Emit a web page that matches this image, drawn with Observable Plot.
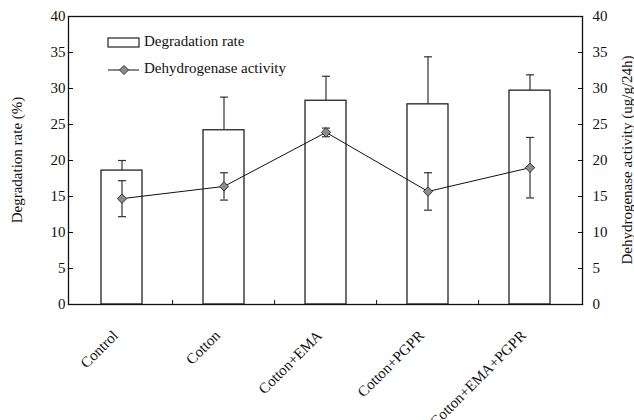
<!DOCTYPE html>
<html>
<head>
<meta charset="utf-8">
<script src="https://cdn.jsdelivr.net/npm/d3@7"></script>
<script src="https://cdn.jsdelivr.net/npm/@observablehq/plot@0.6"></script>
<style>
  html, body { margin: 0; padding: 0; background: #fff; }
  #chart svg { display: block; }
</style>
</head>
<body>
<div id="chart"></div>
<script>
const categories = ["Control", "Cotton", "Cotton+EMA", "Cotton+PGPR", "Cotton+EMA+PGPR"];
const degradation = [18.6, 24.2, 28.3, 27.8, 29.7];
const degradationErr = [1.4, 4.6, 3.4, 6.6, 2.2];
const dehydrogenase = [14.7, 16.4, 23.9, 15.7, 19.0];
const dehydrogenaseErr = [2.5, 1.9, 0.6, 2.6, 4.2];
const yTicks = [0, 5, 10, 15, 20, 25, 30, 35, 40];
const legendLabels = ["Degradation rate", "Dehydrogenase activity"];
const leftTitle = "Degradation rate (%)";
const rightTitle = "Dehydrogenase activity (ug/g/24h)";

const data = categories.map((c, i) => ({
  cat: c,
  bar: degradation[i],
  barHi: degradation[i] + degradationErr[i],
  act: dehydrogenase[i],
  actLo: dehydrogenase[i] - dehydrogenaseErr[i],
  actHi: dehydrogenase[i] + dehydrogenaseErr[i]
}));

const W = 634, H = 420, mL = 68, mR = 52, mT = 16, mB = 116;
const step = (W - mL - mR) / categories.length;

const hline = { draw(ctx, size) { const r = Math.sqrt(size / Math.PI); ctx.moveTo(-r, 0); ctx.lineTo(r, 0); } };
const vline = { draw(ctx, size) { const r = Math.sqrt(size / Math.PI); ctx.moveTo(0, -r); ctx.lineTo(0, r); } };

const font = "'Liberation Serif', 'Times New Roman', serif";

const plot = Plot.plot({
  width: W, height: H,
  marginLeft: mL, marginRight: mR, marginTop: mT, marginBottom: mB,
  style: { fontFamily: font, fontSize: "15px", color: "#111", background: "#fff" },
  x: { domain: categories, paddingInner: 0.6, paddingOuter: 0.3, axis: null },
  y: { domain: [0, 40], axis: null },
  marks: [
    Plot.barY(data, { x: "cat", y: "bar", fill: "#fff", stroke: "#222", strokeWidth: 1.3 }),
    Plot.ruleX(data, { x: "cat", y1: "bar", y2: "barHi", stroke: "#333", strokeWidth: 1.2 }),
    Plot.dot(data, { x: "cat", y: "barHi", symbol: hline, r: 4, fill: "none", stroke: "#333", strokeWidth: 1.2 }),
    Plot.line(data, { x: "cat", y: "act", stroke: "#111", strokeWidth: 1 }),
    Plot.ruleX(data, { x: "cat", y1: "actLo", y2: "actHi", stroke: "#333", strokeWidth: 1.2 }),
    Plot.dot(data, { x: "cat", y: "actLo", symbol: hline, r: 4, fill: "none", stroke: "#333", strokeWidth: 1.2 }),
    Plot.dot(data, { x: "cat", y: "actHi", symbol: hline, r: 4, fill: "none", stroke: "#333", strokeWidth: 1.2 }),
    Plot.dot(data, { x: "cat", y: "act", symbol: "diamond2", r: 4.2, fill: "#8c8c8c", stroke: "#333", strokeWidth: 1 }),
    Plot.frame({ stroke: "#111", strokeWidth: 1.3 }),
    Plot.dot(yTicks, { y: d => d, frameAnchor: "left", symbol: hline, r: 2.6, dx: 2, fill: "none", stroke: "#111", strokeWidth: 1 }),
    Plot.dot(yTicks, { y: d => d, frameAnchor: "right", symbol: hline, r: 2.6, dx: -2, fill: "none", stroke: "#111", strokeWidth: 1 }),
    Plot.dot(categories.slice(1), { x: d => d, frameAnchor: "bottom", symbol: vline, r: 2.6, dx: -step / 2, dy: -2, fill: "none", stroke: "#111", strokeWidth: 1 }),
    Plot.axisY({ anchor: "left", ticks: yTicks, tickSize: 0, tickPadding: 3, label: null, fontSize: 15 }),
    Plot.axisY({ anchor: "right", ticks: yTicks, tickSize: 0, tickPadding: 10, label: null, fontSize: 15 }),
    Plot.text(categories, { x: d => d, frameAnchor: "bottom", rotate: -45, textAnchor: "end", dy: 32, dx: -3, fontSize: 15 })
  ]
});

document.getElementById("chart").appendChild(plot);

const svg = d3.select(plot);
const cy = (mT + (H - mB)) / 2;
svg.append("text").attr("transform", `translate(19,${cy}) rotate(-90)`)
  .attr("text-anchor", "middle").attr("dominant-baseline", "middle")
  .style("font-family", font).style("font-size", "15px").attr("fill", "#111").text(leftTitle);
svg.append("text").attr("transform", `translate(629,${cy}) rotate(-90)`)
  .attr("text-anchor", "middle").attr("dominant-baseline", "middle")
  .style("font-family", font).style("font-size", "15px").attr("fill", "#111").text(rightTitle);

const lg = svg.append("g").style("font-family", font).style("font-size", "15px").attr("text-anchor", "start");
lg.append("rect").attr("x", 108).attr("y", 38).attr("width", 31).attr("height", 9)
  .attr("fill", "#fff").attr("stroke", "#222").attr("stroke-width", 1.2);
lg.append("text").attr("x", 144).attr("y", 43).attr("text-anchor", "start").attr("dominant-baseline", "middle").attr("fill", "#111").text(legendLabels[0]);
lg.append("line").attr("x1", 108).attr("x2", 139).attr("y1", 70).attr("y2", 70).attr("stroke", "#111");
lg.append("path").attr("transform", "translate(124,70)").attr("d", "M0,-4.5L4.5,0L0,4.5L-4.5,0Z")
  .attr("fill", "#8c8c8c").attr("stroke", "#333");
lg.append("text").attr("x", 144).attr("y", 70).attr("text-anchor", "start").attr("dominant-baseline", "middle").attr("fill", "#111").text(legendLabels[1]);
</script>
</body>
</html>
